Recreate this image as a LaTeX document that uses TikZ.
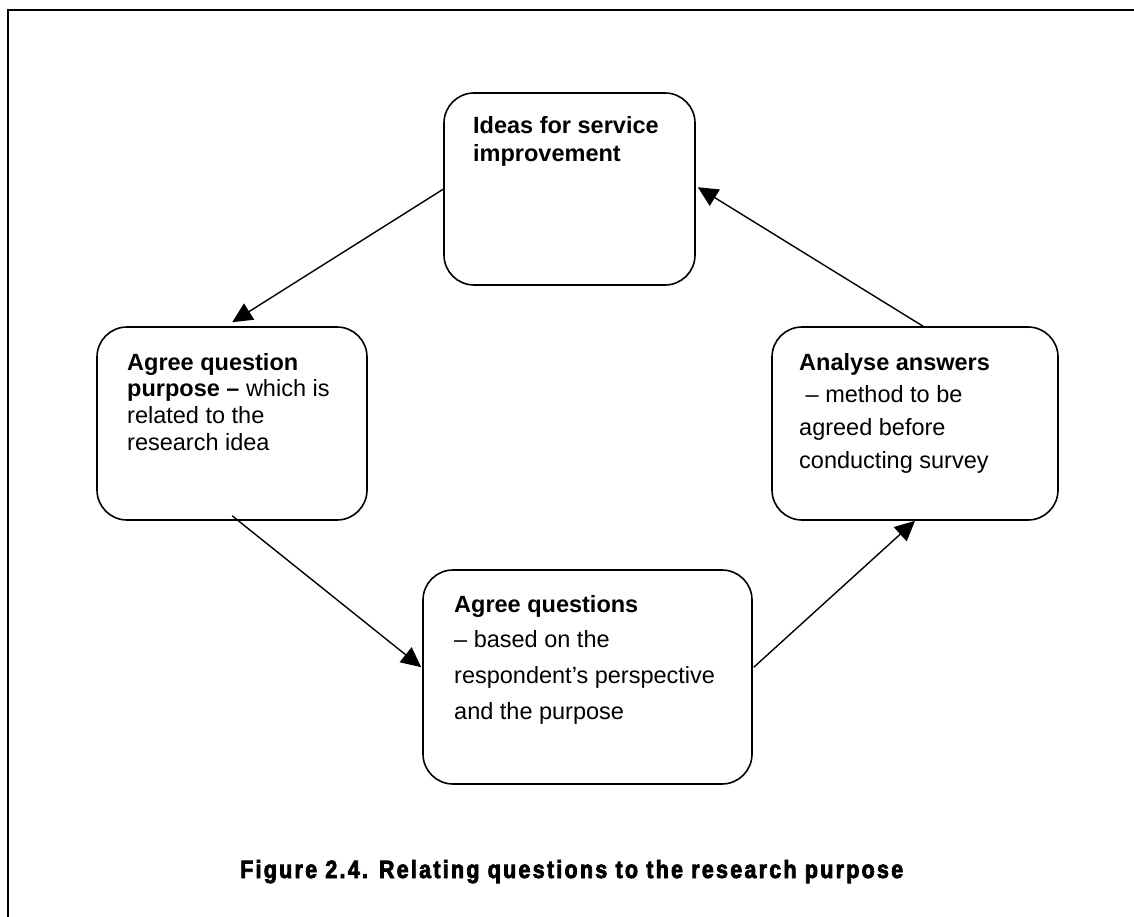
\documentclass[tikz,border=0pt]{standalone}
\usepackage{fontspec}
\setmainfont{Liberation Sans}
\newfontfamily\capfont[BoldFeatures={FakeStretch=0.86,FakeBold=3,LetterSpace=9}]{Liberation Sans}
\usepackage{graphicx}
\usetikzlibrary{calc,arrows.meta}
\begin{document}
\begin{tikzpicture}[x=1pt,y=-1pt,
  box/.style={draw, line width=1.6pt, rounded corners=30pt, inner sep=0pt},
  txt/.style={anchor=north west, inner sep=0pt, align=left},
  arr/.style={line width=1.4pt, -{Triangle[length=20pt,width=19pt]}},
  frameline/.style={line width=2pt, line join=miter}
]
\useasboundingbox (0,0) rectangle (1134,917);
\draw[frameline] (8,917) -- (8,10) -- (1134,10);

\node[box, minimum width=251pt, minimum height=192pt] (top) at (569.5,189) {};
\node[box, minimum width=270pt, minimum height=193pt] (left) at (232,423.5) {};
\node[box, minimum width=286pt, minimum height=193pt] (right) at (915,423.5) {};
\node[box, minimum width=329pt, minimum height=214pt] (bot) at (587.5,677) {};

\node[txt, font=\fontsize{23.5}{28.5}\selectfont] (ttop) at (473,113)
  {\strut\textbf{Ideas for service}\\\textbf{improvement}};
\node[txt, font=\fontsize{23.5}{26.7}\selectfont] (tleft) at (127,351.3)
  {\strut\textbf{Agree question}\\\textbf{purpose –} which is\\related to the\\research idea};
\node[txt, font=\fontsize{23.5}{32.7}\selectfont] (tright) at (799,347.1)
  {\strut\textbf{Analyse answers}\\\hspace*{6.5pt}– method to be\\agreed before\\conducting survey};
\node[txt, font=\fontsize{23.5}{35.7}\selectfont] (tbot) at (454,587)
  {\strut\textbf{Agree questions}\\– based on the\\respondent’s perspective\\and the purpose};

\draw[arr] ($(top.north west)+(0,97)$) -- ($(left.north west)+(136,-4)$);
\draw[arr] ($(left.south west)+(136,-5)$) -- ($(bot.north west)+(-1,98)$);
\draw[arr] ($(bot.north east)+(1,98)$) -- (right.south);
\draw[arr] ($(right.north)+(8,0)$) -- ($(top.north east)+(2,95)$);

\node[anchor=base west, inner sep=0pt, font=\fontsize{25}{30}\capfont\bfseries] (cap) at (240,878)
  {Figure 2.4. Relating questions to the research purpose};
\end{tikzpicture}
\end{document}
